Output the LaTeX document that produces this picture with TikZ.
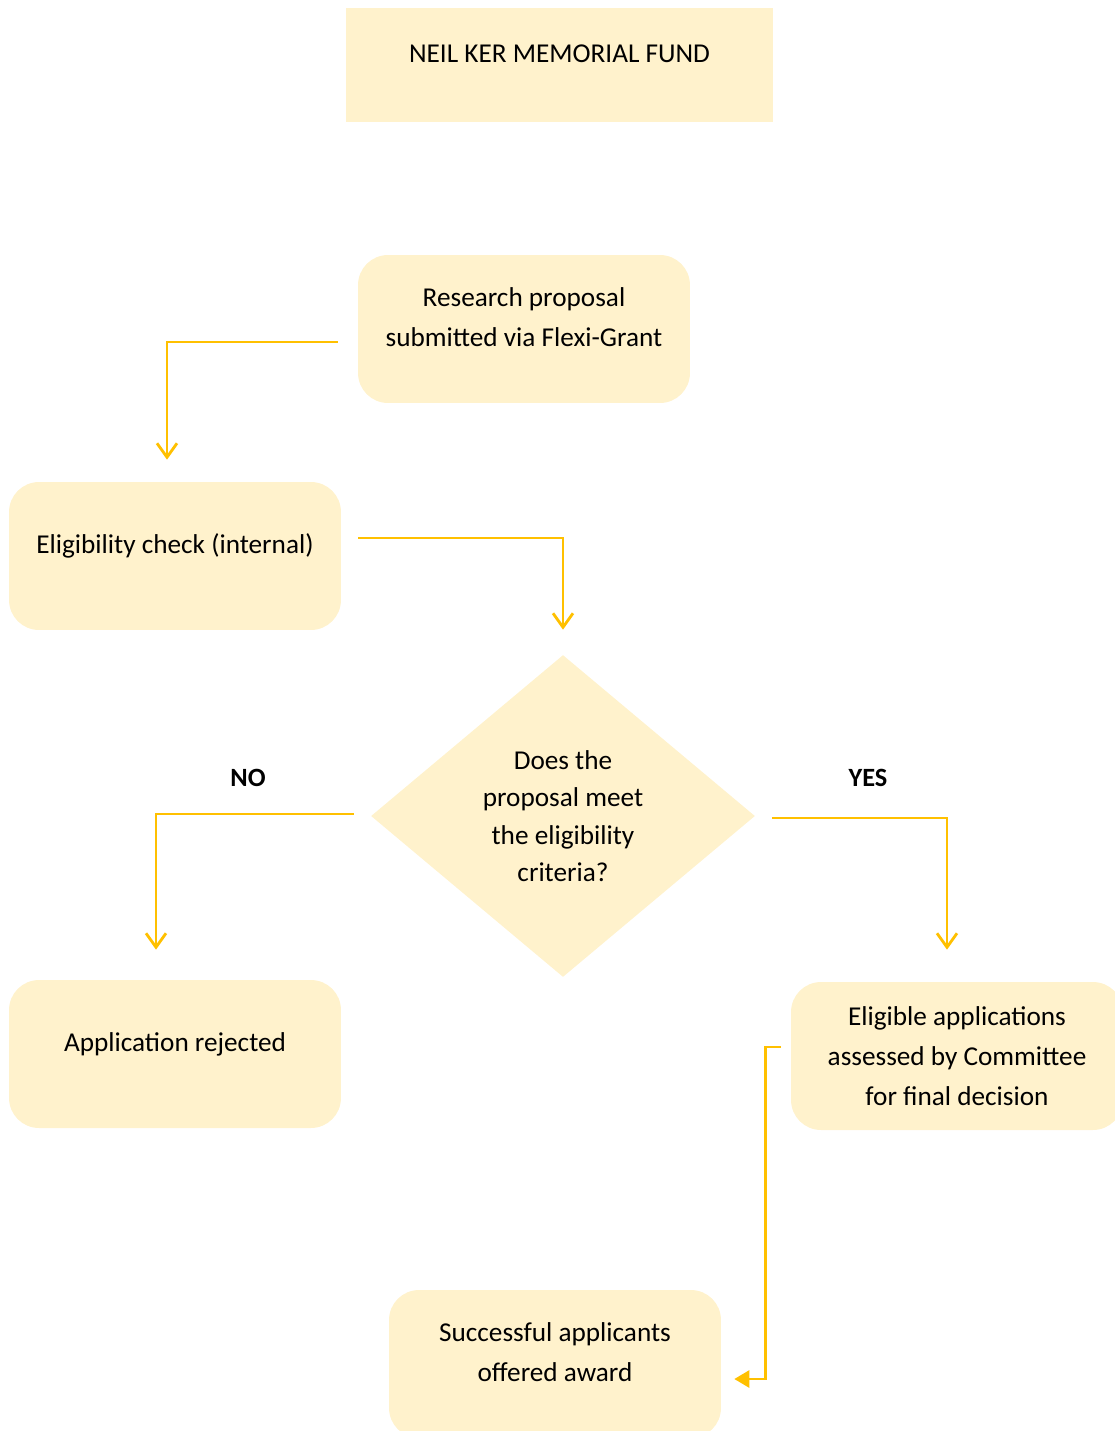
\documentclass[tikz,border=0pt]{standalone}
\usepackage{fontspec}
\setmainfont{Carlito}
\usetikzlibrary{shapes.geometric,arrows.meta}
\definecolor{Fill}{HTML}{FFF2CC}
\definecolor{Flow}{HTML}{FFC000}

\begin{document}
\begin{tikzpicture}[x=0.02cm, y=-0.02cm,
  box/.style={fill=Fill, rounded corners=0.6cm, minimum width=6.64cm, minimum height=2.96cm,
    align=center, text depth=14pt, font=\fontsize{15.5}{22.7}\selectfont},
  flow/.style={draw=Flow, line width=1.6pt, -{Straight Barb[length=0.28cm, width=0.4cm]}},
  answer/.style={font=\fontsize{15}{18}\selectfont\bfseries}]

 \useasboundingbox (0,0) rectangle (1115,1431);

 %%%%%%%%%% Title %%%%%%%%%%
 \node[fill=Fill, minimum width=8.54cm, minimum height=2.28cm, text depth=12.5pt,
   font=\fontsize{15.5}{18}\selectfont] (title) at (559.5,65) {NEIL KER MEMORIAL FUND};

 %%%%%%%%%% Steps %%%%%%%%%%
 \node[box] (prop) at (524,329) {Research proposal\\submitted via Flexi-Grant};
 \node[box] (elig) at (175,556) {Eligibility check (internal)};
 \node[diamond, fill=Fill, minimum width=7.68cm, minimum height=6.44cm, inner sep=0, align=center,
   font=\fontsize{15.5}{21.3}\selectfont] (crit) at (563,816) {Does the\\proposal meet\\the eligibility\\criteria?};
 \node[box, text depth=] (assess) at (957,1056) {Eligible applications\\assessed by Committee\\for final decision};
 \node[box] (reject) at (175,1054) {Application rejected};
 \node[box] (award) at (555,1364) {Successful applicants\\offered award};

 % Answers
 \node[answer] (no) at (248,778) {NO};
 \node[answer] (yes) at (868,778) {YES};

 %%%%%%%%%%% Arrows %%%%%%%%%%%
 \draw[flow] ([shift={(-20,13)}]prop.west) -| ([shift={(-8,-22)}]elig.north);
 \draw[flow] ([shift={(17,-18)}]elig.east) -| ([shift={(0,-25)}]crit.north);
 \draw[flow] ([shift={(-17,-2)}]crit.west) -| ([shift={(-19,-30)}]reject.north);
 \draw[flow] ([shift={(17,2)}]crit.east) -| ([shift={(-10,-32)}]assess.north);
 \draw[flow, -{Triangle[length=0.3cm, width=0.34cm]}] ([shift={(-10,-9)}]assess.west) -- ++(-15,0) |- ([shift={(13,15)}]award.east);

\end{tikzpicture}
\end{document}
